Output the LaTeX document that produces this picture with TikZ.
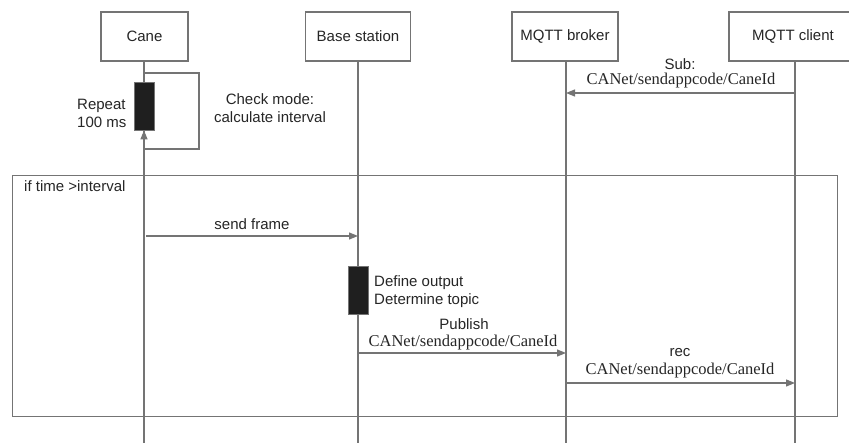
\documentclass[tikz,border=0pt]{standalone}
\usepackage{fontspec}
\setmainfont{Liberation Sans}
\newfontfamily\serifff{Liberation Serif}
\usetikzlibrary{arrows.meta}
\definecolor{ln}{HTML}{747474}
\definecolor{tx}{HTML}{262626}
\tikzset{
  x=1pt, y=-1pt,
  every node/.style={text=tx, font=\fontsize{15}{18}\selectfont},
  actor/.style={draw=ln, line width=1.2pt, fill=white, minimum height=49pt, inner sep=0pt},
  life/.style={draw=ln, line width=1.2pt},
  msg/.style={draw=ln, line width=1.2pt, -{Triangle[length=9pt,width=7pt,fill=ln]}},
  act/.style={draw=ln, line width=0.8pt, fill=black!88, minimum width=20pt, inner sep=0pt},
  topic/.style={font=\serifff\fontsize{16.5}{18}\selectfont, inner sep=0pt},
  lbl/.style={inner sep=0pt, align=center},
}
\begin{document}
\begin{tikzpicture}
\useasboundingbox (0,0) rectangle (849,443);
\clip (0,0) rectangle (849,443);
\fill[white] (0,0) rectangle (849,443);

% lifeline heads
\node[actor, minimum width=87pt] (cane) at (144.5,36.5) {Cane};
\node[actor, minimum width=105pt] (base) at (358,36.5) {Base station};
\node[actor, minimum width=106pt] (broker) at (565,36.5) {MQTT broker};
\node[actor, minimum width=132pt] (client) at (795,36.5) {};
\node (clientlbl) at (793,36.5) {MQTT client};

% lifeline ends
\coordinate (caneE) at (144,443);
\coordinate (baseE) at (358,443);
\coordinate (brokerE) at (566,443);
\coordinate (clientE) at (795,443);
\draw[life] (cane.south -| caneE) -- (caneE);
\draw[life] (base.south -| baseE) -- (baseE);
\draw[life] (broker.south -| brokerE) -- (brokerE);
\draw[life] (client.south -| clientE) -- (clientE);

% self loop on Cane
\node[act, minimum height=48pt] (caneact) at (144,106) {};
\coordinate (l1) at (144,73);
\coordinate (l2) at (199,73);
\coordinate (l3) at (199,149);
\coordinate (l4) at (144,149);
\draw[life] (l1) -- (l2) -- (l3) -- (l4);
\draw[msg] (l4) -- (caneact.south);
\node[lbl, align=left, anchor=west] (rep) at (77,113) {Repeat\\100 ms};
\node[lbl] (chk) at (270,108) {Check mode:\\calculate interval};

% Sub message
\coordinate (subS) at (795,93);
\coordinate (subE) at (566,93);
\draw[msg] (subS) -- (subE);
\node[lbl] (subl) at (680,64) {Sub:};
\node[topic] (subt) at (681,81) {CANet/sendappcode/CaneId};

% frame
\node[draw=ln, line width=1.2pt, minimum width=825pt, minimum height=241pt, inner sep=0pt, anchor=north west] (frame) at (12,175) {};
\node[lbl, anchor=north west] (cond) at (24,180) {if time >interval};

% send frame
\coordinate (sfS) at (146,236);
\coordinate (sfE) at (358,236);
\draw[msg] (sfS) -- (sfE);
\node[lbl] (sfl) at (252,224) {send frame};

% base activation
\node[act, minimum height=48pt] (baseact) at (358,290) {};
\node[lbl, align=left, anchor=west] (def) at (374,292) {Define output\\Determine topic};

% publish
\coordinate (pbS) at (358,353);
\coordinate (pbE) at (566,353);
\draw[msg] (pbS) -- (pbE);
\node[lbl] (pbl) at (464,324) {Publish};
\node[topic] (pbt) at (463,343) {CANet/sendappcode/CaneId};

% rec
\coordinate (rcS) at (566,383);
\coordinate (rcE) at (795,383);
\draw[msg] (rcS) -- (rcE);
\node[lbl] (rcl) at (680,353) {rec};
\node[topic] (rct) at (680,371) {CANet/sendappcode/CaneId};
\end{tikzpicture}
\end{document}
